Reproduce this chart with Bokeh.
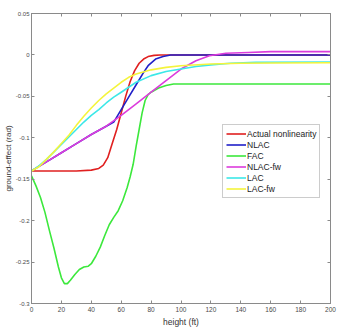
from bokeh.plotting import figure
from bokeh.models import Range1d, FixedTicker, LinearAxis, Legend, LegendItem, CustomLabelingPolicy
from bokeh.embed import file_html
from bokeh.resources import INLINE

# ---------------- data ----------------
actual_x = [0, 10, 20, 30, 40, 45, 48, 51, 54, 57, 60, 63, 66, 69, 72, 75, 78, 82, 86, 90, 100, 120, 140, 160, 180, 200]
actual_y = [-0.14, -0.14, -0.14, -0.14, -0.139, -0.137, -0.133, -0.124, -0.107, -0.09, -0.07, -0.05, -0.032,
            -0.019, -0.01, -0.005, -0.002, -0.0005, 0, 0, 0, 0, 0, 0, 0, 0]

nlac_x = [0, 10, 20, 30, 40, 50, 55, 60, 65, 70, 75, 78, 83, 88, 93, 100, 150, 200]
nlac_y = [-0.14, -0.129, -0.118, -0.107, -0.096, -0.086, -0.081, -0.066, -0.051, -0.036, -0.021, -0.013,
          -0.005, -0.002, 0, 0, 0, 0]

fac_x = [0, 3, 6, 9, 12, 15, 18, 20, 22, 24, 26, 29, 32, 35, 38, 40, 43, 46, 49, 52, 55, 58, 61, 64, 66, 68,
         70, 72, 74, 76, 78, 80, 85, 90, 95, 120, 150, 200]
fac_y = [-0.146, -0.158, -0.172, -0.19, -0.212, -0.233, -0.256, -0.269, -0.276, -0.276, -0.272, -0.265, -0.259,
         -0.256, -0.255, -0.252, -0.243, -0.232, -0.218, -0.205, -0.196, -0.188, -0.176, -0.16, -0.147, -0.132,
         -0.11, -0.09, -0.07, -0.055, -0.048, -0.045, -0.04, -0.037, -0.035, -0.035, -0.035, -0.035]

nlacfw_x = [0, 10, 20, 30, 40, 50, 60, 70, 80, 90, 100, 110, 119, 130, 145, 160, 200]
nlacfw_y = [-0.14, -0.129, -0.118, -0.107, -0.096, -0.086, -0.073, -0.059, -0.045, -0.031, -0.017, -0.007,
            -0.001, 0.002, 0.003, 0.004, 0.004]

lac_x = [0, 5, 10, 15, 20, 25, 30, 35, 40, 45, 50, 55, 60, 65, 70, 80, 90, 100, 110, 120, 133, 150, 200]
lac_y = [-0.14, -0.134, -0.126, -0.117, -0.108, -0.099, -0.09, -0.081, -0.073, -0.066, -0.058, -0.051, -0.045,
         -0.039, -0.033, -0.025, -0.02, -0.017, -0.014, -0.012, -0.01, -0.009, -0.0085]

lacfw_x = [0, 5, 10, 15, 20, 25, 30, 35, 40, 45, 50, 55, 60, 65, 70, 80, 90, 100, 120, 140, 160, 200]
lacfw_y = [-0.14, -0.135, -0.126, -0.117, -0.107, -0.097, -0.085, -0.074, -0.064, -0.055, -0.047, -0.04,
           -0.033, -0.027, -0.023, -0.018, -0.015, -0.013, -0.011, -0.01, -0.0098, -0.0095]

x_ticks = [0, 20, 40, 60, 80, 100, 120, 140, 160, 180, 200]
y_ticks = [-0.3, -0.25, -0.2, -0.15, -0.1, -0.05, 0, 0.05]
y_tick_labels = ["-0.3", "-0.25", "-0.2", "-0.15", "-0.1", "-0.05", "0", "0.05"]

series_names = ["Actual nonlinearity", "NLAC", "FAC", "NLAC-fw", "LAC", "LAC-fw"]
series_colors = ["#e02020", "#2020c8", "#3ce83c", "#dc3cdc", "#3ce8e8", "#f4f43c"]

# ---------------- figure ----------------
FONT = "Liberation Sans"
AX_COL = "#8a8a8a"
TXT_COL = "#4a4a4a"

p = figure(width=337, height=329, output_backend="svg", toolbar_location=None,
           x_range=Range1d(0, 200), y_range=Range1d(-0.3, 0.05),
           min_border_left=20, min_border_right=7, min_border_top=13, min_border_bottom=26)
p.background_fill_color = "white"
p.border_fill_color = "white"
p.outline_line_color = AX_COL
p.xgrid.visible = False
p.ygrid.visible = False

xs = [actual_x, nlac_x, fac_x, nlacfw_x, lac_x, lacfw_x]
ys = [actual_y, nlac_y, fac_y, nlacfw_y, lac_y, lacfw_y]
renderers = []
for x, y, c in zip(xs, ys, series_colors):
    renderers.append(p.line(x, y, line_color=c, line_width=1.6))

hide_all = CustomLabelingPolicy(code="""
const all = [...indices];
for (const i of all) indices.unset(i);
return indices;
""")

def style_axis(ax, show_labels=True):
    ax.axis_line_color = AX_COL
    ax.major_tick_line_color = AX_COL
    ax.minor_tick_line_color = None
    ax.major_tick_in = 3
    ax.major_tick_out = 0
    if show_labels:
        ax.major_label_text_font = FONT
        ax.major_label_text_font_size = "6px"
        ax.major_label_text_color = TXT_COL
        ax.major_label_standoff = 2
    else:
        ax.major_label_text_font_size = "1px"
        ax.major_label_standoff = 0
        ax.major_label_policy = hide_all

xa = p.xaxis[0]
xa.ticker = FixedTicker(ticks=x_ticks)
style_axis(xa)
xa.major_label_text_font_size = "6.5px"
xa.major_label_standoff = 3
xa.axis_label = "height (ft)"
xa.axis_label_text_font = FONT
xa.axis_label_text_font_size = "8.5px"
xa.axis_label_text_font_style = "normal"
xa.axis_label_text_color = "#333333"
xa.axis_label_standoff = 2

ya = p.yaxis[0]
ya.ticker = FixedTicker(ticks=y_ticks)
ya.major_label_overrides = {t: s for t, s in zip(y_ticks, y_tick_labels)}
style_axis(ya)
ya.axis_label = "ground-effect (rad)"
ya.axis_label_text_font = FONT
ya.axis_label_text_font_size = "8px"
ya.axis_label_text_font_style = "normal"
ya.axis_label_text_color = "#333333"
ya.axis_label_standoff = 0

top = LinearAxis(ticker=FixedTicker(ticks=x_ticks))
style_axis(top, show_labels=False)
p.add_layout(top, "above")
right = LinearAxis(ticker=FixedTicker(ticks=y_ticks))
style_axis(right, show_labels=False)
p.add_layout(right, "right")

legend = Legend(items=[LegendItem(label=n, renderers=[r]) for n, r in zip(series_names, renderers)],
                location=(191, 105))
legend.label_text_font = FONT
legend.label_text_font_size = "8.5px"
legend.label_text_color = "#222222"
legend.label_height = 11
legend.glyph_height = 11
legend.glyph_width = 20
legend.label_standoff = 1
legend.spacing = 0
legend.padding = 3
legend.margin = 0
legend.border_line_color = "#9a9a9a"
legend.border_line_width = 1
legend.background_fill_color = "white"
legend.background_fill_alpha = 1
p.add_layout(legend, "center")

open("out.html", "w").write(file_html(p, INLINE))
